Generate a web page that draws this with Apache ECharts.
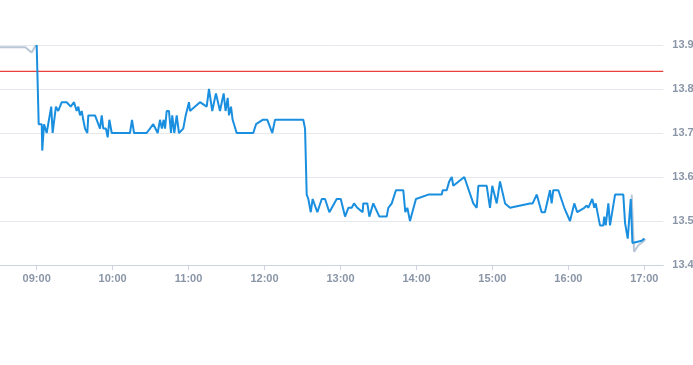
<!DOCTYPE html>
<html>
<head>
<meta charset="utf-8">
<script src="https://cdn.jsdelivr.net/npm/echarts@6/dist/echarts.min.js"></script>
<style>html,body{margin:0;padding:0;background:#fff}#c{width:693px;height:365px}</style>
</head>
<body>
<div id="c"></div>
<script>
// times in minutes since midnight
const preTimes = [510, 531, 536, 539.5, 540];
const preValues = [13.895, 13.895, 13.883, 13.9, 13.9];

const mainTimes = [540, 541.6, 544, 544.4, 545.8, 547.9, 551.5, 552.6, 555.2, 557, 559.8, 563.7, 566.9, 569.5, 571.6, 572.9, 574.2, 575.6, 576.8, 578.2, 580, 580.8, 586.1, 588.7, 590, 591.4, 592.6, 594.7, 596.1, 597.4, 599.3, 613.7, 615.3, 616.9, 626.9, 632.1, 635.6, 637.4, 638.9, 640.3, 641.4, 642.7, 644.5, 646.1, 647.1, 648.7, 650.6, 652.4, 655.8, 657.7, 660.3, 661.1, 669, 674.3, 676.1, 678.7, 681.6, 684.8, 687.7, 689.2, 690.9, 691.9, 693.5, 694.8, 698, 711.1, 713.3, 718.5, 722.2, 726.1, 728.3, 750.6, 752, 753.3, 754.6, 756.5, 758, 761.7, 765.2, 767.8, 771.2, 777, 780.2, 783.6, 786.2, 788.9, 790.7, 793.3, 797.5, 798, 801.2, 802.8, 805.9, 810.7, 816.5, 817.8, 820.5, 823.8, 829.6, 831.2, 832.8, 834.9, 839.6, 849.4, 860, 860.7, 863.9, 865.9, 867.9, 869.1, 877.8, 884.9, 887.6, 888.9, 895.5, 898.1, 899.9, 903.4, 906, 910, 913.9, 929.7, 931.8, 935, 938.9, 941.5, 945.5, 946.8, 948.1, 952.1, 956.8, 961.3, 964.7, 967, 972.6, 974.5, 975.7, 978.9, 980.5, 981.6, 985, 987.6, 988.4, 989.5, 991.6, 992.9, 996.9, 1003.4, 1004.8, 1006.9, 1007.9, 1009.3, 1010.6, 1018, 1020];
const mainValues = [13.9, 13.72, 13.72, 13.66, 13.72, 13.70, 13.76, 13.70, 13.76, 13.75, 13.77, 13.77, 13.76, 13.77, 13.75, 13.76, 13.74, 13.75, 13.73, 13.71, 13.70, 13.74, 13.74, 13.72, 13.71, 13.74, 13.71, 13.71, 13.69, 13.73, 13.70, 13.70, 13.73, 13.70, 13.70, 13.72, 13.70, 13.73, 13.71, 13.73, 13.71, 13.75, 13.75, 13.70, 13.74, 13.70, 13.74, 13.70, 13.71, 13.74, 13.77, 13.75, 13.77, 13.76, 13.80, 13.75, 13.79, 13.75, 13.79, 13.75, 13.78, 13.74, 13.76, 13.73, 13.70, 13.70, 13.72, 13.73, 13.73, 13.70, 13.73, 13.73, 13.71, 13.56, 13.55, 13.52, 13.55, 13.52, 13.55, 13.55, 13.52, 13.55, 13.55, 13.51, 13.53, 13.53, 13.54, 13.53, 13.52, 13.54, 13.54, 13.51, 13.54, 13.51, 13.51, 13.53, 13.54, 13.57, 13.57, 13.52, 13.53, 13.50, 13.55, 13.56, 13.56, 13.57, 13.57, 13.59, 13.60, 13.58, 13.60, 13.54, 13.53, 13.58, 13.58, 13.53, 13.58, 13.54, 13.59, 13.54, 13.53, 13.54, 13.54, 13.56, 13.52, 13.52, 13.57, 13.54, 13.57, 13.57, 13.53, 13.50, 13.54, 13.52, 13.53, 13.535, 13.53, 13.55, 13.53, 13.54, 13.49, 13.49, 13.51, 13.49, 13.54, 13.49, 13.56, 13.56, 13.495, 13.46, 13.46, 13.55, 13.45, 13.455, 13.46];

const postTimes = [1010, 1011.9, 1015.3, 1020, 1020.5];
const postValues = [13.56, 13.43, 13.445, 13.455, 13.46];

const refPrice = 13.84;
const axisRange = [510, 1035];
const tickTimes = [540, 600, 660, 720, 780, 840, 900, 960, 1020];

function fmt(m) {
  const h = Math.floor(m / 60), mm = Math.round(m % 60);
  return String(h).padStart(2, '0') + ':' + String(mm).padStart(2, '0');
}
const zip = (a, b) => a.map((t, i) => [t, b[i]]);

const chart = echarts.init(document.getElementById('c'), null, {renderer: 'canvas'});
chart.setOption({
  animation: false,
  backgroundColor: '#ffffff',
  grid: {left: -1.3, right: 29.7, top: 45, bottom: 100, containLabel: false, outerBoundsMode: 'none'},
  xAxis: {
    type: 'value', min: axisRange[0], max: axisRange[1],
    axisLine: {show: true, lineStyle: {color: '#ccd3de', width: 1}},
    axisTick: {show: true, customValues: tickTimes, length: 5, lineStyle: {color: '#ccd3de'}},
    axisLabel: {customValues: tickTimes, formatter: fmt, color: '#8a96a8', fontSize: 11, fontWeight: 'bold', fontFamily: 'Liberation Sans, Arial, sans-serif', margin: 8},
    splitLine: {show: false}
  },
  yAxis: {
    type: 'value', position: 'right', min: 13.4, max: 13.9, interval: 0.1,
    axisLine: {show: false}, axisTick: {show: false},
    axisLabel: {color: '#8a96a8', fontSize: 11, fontWeight: 'bold', fontFamily: 'Liberation Sans, Arial, sans-serif', margin: 9, formatter: v => v.toFixed(1)},
    splitLine: {show: true, lineStyle: {color: '#e5e8ed', width: 1}}
  },
  series: [
    {type: 'line', data: [[axisRange[0], refPrice], [axisRange[1], refPrice]], symbol: 'none', silent: true,
      lineStyle: {color: '#e8403c', width: 1.2}, itemStyle: {color: '#e8403c'}, z: 0},
    {type: 'line', data: zip(preTimes, preValues), symbol: 'none', lineStyle: {color: '#b8c6d6', width: 2}, itemStyle: {color: '#b8c6d6'}, z: 1},
    {type: 'line', data: zip(postTimes, postValues), symbol: 'none', lineStyle: {color: '#b8c6d6', width: 2}, itemStyle: {color: '#b8c6d6'}, z: 1},
    {type: 'line', data: zip(mainTimes, mainValues), symbol: 'none', lineStyle: {color: '#1a8fe0', width: 2}, itemStyle: {color: '#1a8fe0'}, z: 2}
  ]
});
</script>
</body>
</html>
